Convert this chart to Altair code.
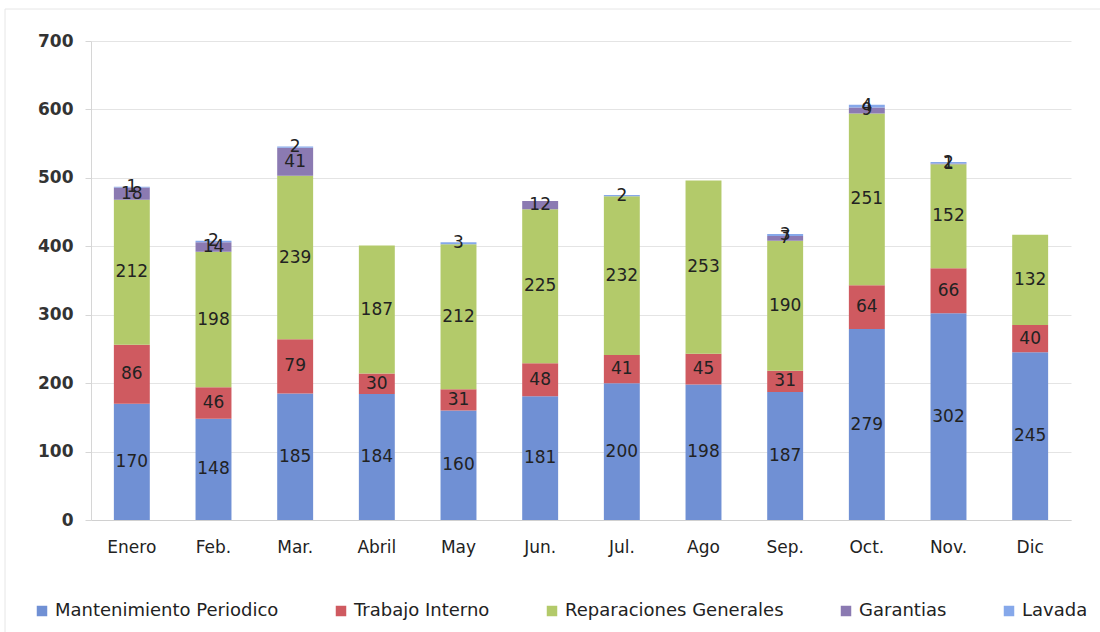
import altair as alt
import pandas as pd

meses = ["Enero", "Feb.", "Mar.", "Abril", "May", "Jun.", "Jul.", "Ago", "Sep.", "Oct.", "Nov.", "Dic"]
series = ["Mantenimiento Periodico", "Trabajo Interno", "Reparaciones Generales", "Garantias", "Lavada"]
colores = ["#7090d4", "#cf5a60", "#b3ca6a", "#8b7ab2", "#86a8ea"]

mantenimiento = [170, 148, 185, 184, 160, 181, 200, 198, 187, 279, 302, 245]
trabajo = [86, 46, 79, 30, 31, 48, 41, 45, 31, 64, 66, 40]
reparaciones = [212, 198, 239, 187, 212, 225, 232, 253, 190, 251, 152, 132]
garantias = [18, 14, 41, 0, 0, 12, 0, 0, 7, 9, 1, 0]
lavada = [1, 2, 2, 0, 3, 0, 2, 0, 3, 4, 2, 0]

valores = [mantenimiento, trabajo, reparaciones, garantias, lavada]
filas = []
for orden, (nombre, serie) in enumerate(zip(series, valores)):
    for mes, v in zip(meses, serie):
        filas.append({"Mes": mes, "Serie": nombre, "orden": orden, "valor": v})
df = pd.DataFrame(filas)

FONT = "DejaVu Sans"

base = alt.Chart(df).transform_filter(alt.datum.valor > 0).transform_stack(
    stack="valor", groupby=["Mes"], as_=["y0", "y1"],
    sort=[alt.SortField("orden", order="ascending")]
).transform_calculate(ymid="(datum.y0 + datum.y1) / 2")

x_enc = alt.X("Mes:N", sort=meses, title=None,
              scale=alt.Scale(paddingInner=0.56, paddingOuter=0.28),
              axis=alt.Axis(labelAngle=0, labelFont=FONT, labelFontSize=17,
                            labelColor="#222222", labelPadding=19, ticks=False,
                            domainColor="#d0d0d0"))

barras = base.mark_bar().encode(
    x=x_enc,
    y=alt.Y("y0:Q", title=None,
            scale=alt.Scale(domain=[0, 700]),
            axis=alt.Axis(values=list(range(0, 701, 100)), labelFont=FONT,
                          labelFontSize=17, labelFontWeight="bold",
                          labelColor="#333333", labelPadding=12,
                          tickSize=6, tickColor="#d6d6d6", domainColor="#d6d6d6",
                          gridColor="#e4e4e4")),
    y2="y1:Q",
    color=alt.Color("Serie:N", sort=series,
                    scale=alt.Scale(domain=series, range=colores),
                    legend=alt.Legend(title=None, orient="none", direction="horizontal",
                                      columns=5, legendX=-58, legendY=561,
                                      symbolType="square", symbolSize=110,
                                      symbolStrokeWidth=0, labelFont=FONT,
                                      labelFontSize=18, labelColor="#222222",
                                      labelLimit=400, columnPadding=53,
                                      symbolOffset=0)),
)

etiquetas = base.mark_text(font=FONT, fontSize=17, color="#222222", baseline="middle").encode(
    x=alt.X("Mes:N", sort=meses),
    y=alt.Y("ymid:Q"),
    text="valor:Q",
)

# faint outer frame of the chart area
marco = alt.Chart(pd.DataFrame({"k": [0]})).mark_rect(
    fill=None, stroke="#e6e6e6", strokeWidth=1
).encode(
    x=alt.value(-86), x2=alt.value(1030), y=alt.value(-32), y2=alt.value(600)
)

chart = alt.layer(marco, barras, etiquetas).properties(
    width=980, height=479,
    autosize=alt.AutoSizeParams(type="none"),
    padding={"left": 91, "top": 41, "right": 29, "bottom": 112},
    background="white",
).configure_view(stroke=None)

chart.save("out.html", embed_options={"renderer": "svg", "actions": False})
